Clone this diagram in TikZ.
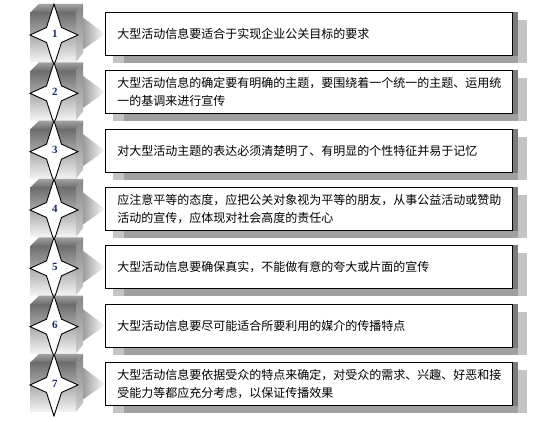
\documentclass[tikz,border=0pt]{standalone}
\usepackage{fontspec}
\setmainfont{Liberation Serif}
\newfontfamily\cjk{Noto Sans CJK SC}
\usetikzlibrary{calc}
\definecolor{CubeDark}{HTML}{6E6E6E}
\definecolor{CubePale}{HTML}{F4F4F4}
\definecolor{CubeTopBack}{HTML}{A2A2A2}
\definecolor{CubeTopFront}{HTML}{6A6A6A}
\definecolor{CubeSideTop}{HTML}{858585}
\definecolor{CubeSideLow}{HTML}{CDCDCD}
\definecolor{NumInk}{HTML}{1B2A66}
\definecolor{ShadeLight}{HTML}{C4C4C4}
\definecolor{ShadeDark}{HTML}{A0A0A0}
\definecolor{EdgeGrey}{HTML}{7C7C7C}
\definecolor{PointerGrey}{HTML}{9C9C9C}
\tikzset{
  cubefront/.style={top color=CubeDark, bottom color=CubePale},
  cubetop/.style={top color=CubeTopBack, bottom color=CubeTopFront},
  cubeside/.style={top color=CubeSideTop, bottom color=CubeSideLow},
  starline/.style={draw=black, fill=white, line width=0.9pt, line join=miter},
  numlabel/.style={font=\bfseries\fontsize{11pt}{11pt}\selectfont, text=NumInk, inner sep=0pt},
  infobox/.style={draw=black, line width=0.9pt, fill=white, minimum width=407pt,
    minimum height=43pt, text width=383pt, inner xsep=12pt, inner ysep=0pt, align=left,
    font=\cjk\fontsize{12pt}{18pt}\selectfont},
  pointer/.style={left color=PointerGrey, right color=white},
  shadelight/.style={fill=ShadeLight},
  shadedark/.style={fill=ShadeDark},
  edgestrip/.style={fill=EdgeGrey},
}
\begin{document}
\begin{tikzpicture}[x=1pt,y=-1pt]
  \useasboundingbox (0,0) rectangle (547,422);
  \foreach \i/\txt in {
    1/{大型活动信息要适合于实现企业公关目标的要求},
    2/{大型活动信息的确定要有明确的主题，要围绕着一个统一的主题、运用统\\一的基调来进行宣传},
    3/{对大型活动主题的表达必须清楚明了、有明显的个性特征并易于记忆},
    4/{应注意平等的态度，应把公关对象视为平等的朋友，从事公益活动或赞助\\活动的宣传，应体现对社会高度的责任心},
    5/{大型活动信息要确保真实，不能做有意的夸大或片面的宣传},
    6/{大型活动信息要尽可能适合所要利用的媒介的传播特点},
    7/{大型活动信息要依据受众的特点来确定，对受众的需求、兴趣、好恶和接\\受能力等都应充分考虑，以保证传播效果}}{
    \pgfmathsetmacro{\t}{12+58.33*(\i-1)}
    % Cube with its bevels
    \shade[cubetop] (30,\t+1) -- (39,\t-8) -- (83,\t-8) -- (76,\t+1) -- cycle;
    \shade[cubeside] (76,\t+1) -- (83,\t-8) -- (83,\t+41) -- (76,\t+50) -- cycle;
    \shade[cubefront] (30,\t+1) rectangle (76,\t+50);
    % Star and number
    \coordinate (c\i) at (54,\t+23);
    \draw[starline] (c\i) ++(0,-31) -- ++(7.5,23.5) -- ++(16.5,7.5) -- ++(-16.5,7.5)
      -- ++(-7.5,23.5) -- ++(-7.5,-23.5) -- ++(-16.5,-7.5) -- ++(16.5,-7.5) -- cycle;
    \node[numlabel] (num\i) at ($(c\i)+(1,-1.5)$) {\i};
    % Shadow behind the text box
    \fill[shadelight] (113,\t+8) rectangle (527,\t+51);
    \fill[shadedark] (124,\t+43) rectangle (518,\t+51);
    \fill[edgestrip] (512,\t) rectangle (518,\t+44);
    \node[infobox, anchor=north west] (txt\i) at (105,\t) {\txt};
    % Pointer from cube to box
    \coordinate (side\i) at (83,\t+21.5);
    \shade[pointer] ($(side\i)+(0,-16)$) -- (txt\i.west) -- ($(side\i)+(0,16)$) -- cycle;
  }
\end{tikzpicture}
\end{document}
